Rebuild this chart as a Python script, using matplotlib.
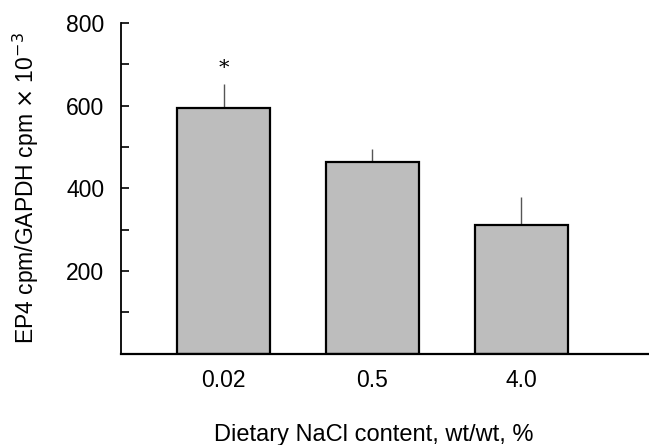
import matplotlib
matplotlib.use("Agg")
import numpy as np
from matplotlib import pyplot as plt

categories = ["0.02", "0.5", "4.0"]
means = [594, 463, 311]
errors = [58, 32, 69]
stars = ["*", "", ""]

plt.rcParams['font.family'] = ['Liberation Sans', 'DejaVu Sans']

fig = plt.figure(figsize=(6.49, 4.45), dpi=100)
ax = fig.add_axes([121 / 649, 1 - 353.7 / 445, 1 - 121 / 649, 330.7 / 445])

x = np.arange(len(categories))
ax.bar(x, means, width=0.63, color='#bdbdbd', edgecolor='black', linewidth=1.6, zorder=2)
ax.errorbar(x, means, yerr=[np.zeros(len(means)), errors], fmt='none',
            ecolor='#555555', elinewidth=1.0, capsize=0, zorder=1)
for xi, m, e, s in zip(x, means, errors, stars):
    if s:
        ax.text(xi, m + e + 14, s, ha='center', va='bottom', fontsize=15,
                family=['DejaVu Serif'])

ax.set_xlim(-0.688, 2.856)
ax.set_ylim(0, 800)
ax.set_yticks([200, 400, 600, 800])
ax.set_yticks([100, 300, 500, 700], minor=True)
ax.tick_params(axis='y', which='both', direction='in', length=6, width=1.2, labelsize=16.5, pad=12)
ax.set_xticks(x)
ax.set_xticklabels(categories)
ax.tick_params(axis='x', length=0, labelsize=16.5, pad=11)

for side in ['top', 'right']:
    ax.spines[side].set_visible(False)
ax.spines['left'].set_linewidth(1.3)
ax.spines['bottom'].set_linewidth(1.6)

ax.set_ylabel(r"EP4 cpm/GAPDH cpm $\times$ 10$^{-3}$", fontsize=16.5, labelpad=18)
ax.set_xlabel("Dietary NaCl content, wt/wt, %", fontsize=17)
ax.xaxis.set_label_coords(0.479, -0.212)

fig.savefig("out.png", dpi=100)
